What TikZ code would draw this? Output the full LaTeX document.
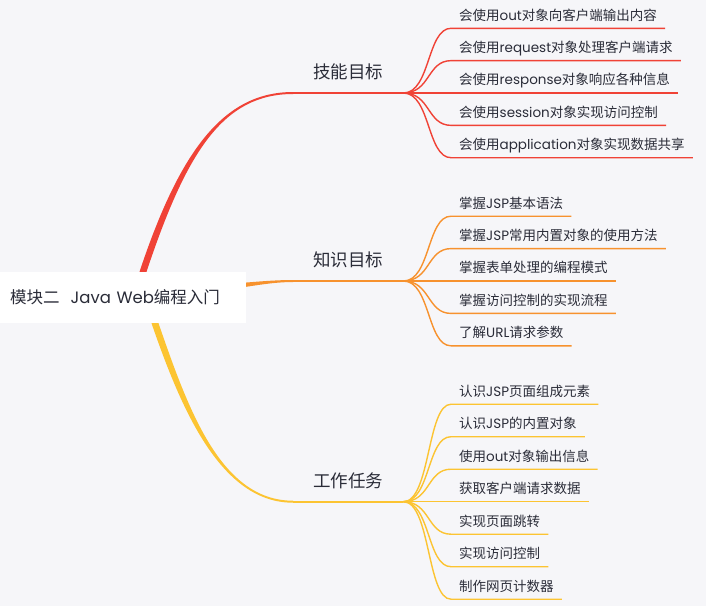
\documentclass[tikz,border=0pt]{standalone}
\usepackage{fontspec}
\setmainfont{Noto Sans CJK SC}
\newfontfamily\en{Poppins}
\usetikzlibrary{calc, backgrounds}

\definecolor{bgc}{RGB}{246,246,249}
\definecolor{skillc}{RGB}{240,66,54}
\definecolor{knowc}{RGB}{247,146,46}
\definecolor{taskc}{RGB}{252,196,50}
\definecolor{txtc}{RGB}{42,44,56}

\tikzset{
  rootbox/.style={fill=white, anchor=west, text width=226pt, inner xsep=10pt, inner ysep=0pt,
    minimum height=51pt, align=left, font=\fontsize{16.5}{20}\selectfont, text=txtc},
  topic/.style={anchor=south west, inner xsep=20pt, inner ysep=0pt, text depth=14.3pt,
    font=\fontsize{17.5}{20}\selectfont, text=txtc},
  item/.style={anchor=south west, inner xsep=8pt, inner ysep=0pt, text depth=7.9pt,
    font=\fontsize{13.5}{16}\selectfont, text=txtc},
  topicline/.style={line width=1.8pt},
  itemline/.style={line width=1.4pt},
}

\begin{document}
\begin{tikzpicture}[x=1pt, y=-1pt]
  \useasboundingbox (0,0) rectangle (706,606);

  \node[rootbox] (root) at (0,297.5) {模块二{\en\ \ Java Web}编程入门};

  \node[topic] (skill) at (293,93) {技能目标};
  \node[topic] (know) at (293,281) {知识目标};
  \node[topic] (task) at (293,501.7) {工作任务};

  % items of each topic
  \foreach \txt [count=\i] in {会使用{\en out}对象向客户端输出内容, 会使用{\en request}对象处理客户端请求,
      会使用{\en response}对象响应各种信息, 会使用{\en session}对象实现访问控制, 会使用{\en application}对象实现数据共享}
    \node[item] (skill\i) at (451, {93+32.35*(\i-3)}) {\txt};
  \foreach \txt [count=\i] in {掌握{\en JSP}基本语法, 掌握{\en JSP}常用内置对象的使用方法, 掌握表单处理的编程模式,
      掌握访问控制的实现流程, 了解{\en URL}请求参数}
    \node[item] (know\i) at (451, {281+32.4*(\i-3)}) {\txt};
  \foreach \txt [count=\i] in {认识{\en JSP}页面组成元素, 认识{\en JSP}的内置对象, 使用{\en out}对象输出信息,
      获取客户端请求数据, 实现页面跳转, 实现访问控制, 制作网页计数器}
    \node[item] (task\i) at (451, {501.7+32.5*(\i-4)}) {\txt};

  \begin{scope}[on background layer]
    \fill[bgc] (0,0) rectangle (706,606);
    % main branches, thick at the root
    \fill[skillc] ($(root.north west)+(139.5,0)$) .. controls +(40,-120) and +(-70,0) .. ([yshift=1pt]skill.south west)
      -- ([yshift=-1pt]skill.south west) .. controls +(-70,0) and +(40,-120) .. ($(root.north west)+(146.5,0)$) -- cycle;
    \fill[knowc] ($(root.east)+(-40,-13)$) .. controls +(30,0) and +(-30,0) .. ([yshift=1pt]know.south west)
      -- ([yshift=-1pt]know.south west) .. controls +(-30,0) and +(30,0) .. ($(root.east)+(-40,-7)$) -- cycle;
    \fill[taskc] ($(root.south west)+(151.5,0)$) .. controls +(30,87) and +(-72,0) .. ([yshift=-1pt]task.south west)
      -- ([yshift=1pt]task.south west) .. controls +(-72,0) and +(30,87) .. ($(root.south west)+(158.5,0)$) -- cycle;

    \draw[topicline, skillc] (skill.south west) -- (skill.south east);
    \draw[topicline, knowc] (know.south west) -- (know.south east);
    \draw[topicline, taskc] (task.south west) -- (task.south east);

    \foreach \i in {1,...,5}
      \draw[itemline, skillc] (skill.south east) .. controls +(27,0) and +(-24,0) .. (skill\i.south west) -- (skill\i.south east);
    \foreach \i in {1,...,5}
      \draw[itemline, knowc] (know.south east) .. controls +(27,0) and +(-24,0) .. (know\i.south west) -- (know\i.south east);
    \foreach \i in {1,...,7}
      \draw[itemline, taskc] (task.south east) .. controls +(27,0) and +(-24,0) .. (task\i.south west) -- (task\i.south east);
  \end{scope}
\end{tikzpicture}
\end{document}
